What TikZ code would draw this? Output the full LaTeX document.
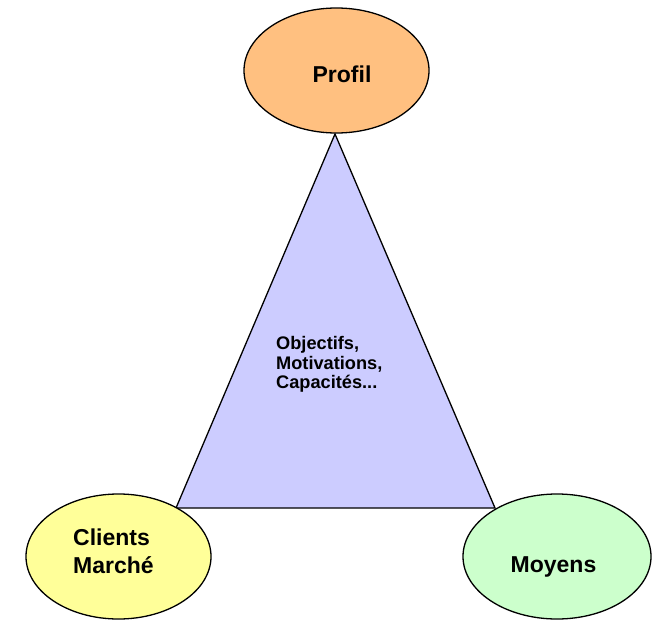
\documentclass[tikz,border=0pt]{standalone}
\usepackage{fontspec}
\setmainfont{Liberation Sans}
\usetikzlibrary{shapes.geometric}
\definecolor{profilfill}{HTML}{FFC080}
\definecolor{clientfill}{HTML}{FFFF99}
\definecolor{moyenfill}{HTML}{CCFFCC}
\definecolor{trifill}{HTML}{CCCCFF}
\tikzset{
  oval/.style={ellipse, draw=black, line width=1.3pt, inner sep=0pt},
  bigtxt/.style={inner sep=0pt, align=left, font=\bfseries\fontsize{23}{28}\selectfont},
  smalltxt/.style={inner sep=0pt, align=left, font=\bfseries\fontsize{18.2}{19.5}\selectfont},
}
\begin{document}
\begin{tikzpicture}[x=1pt,y=-1pt]
\useasboundingbox (0,0) rectangle (652,620);
\coordinate (apex) at (335,134);
\coordinate (bl) at (176,508);
\coordinate (br) at (495,508);
\draw[line width=1.3pt, fill=trifill, line join=miter] (apex) -- (br) -- (bl) -- cycle;
\node[oval, fill=profilfill, minimum width=185pt, minimum height=125pt] (profil) at (336.5,70.5) {};
\node[oval, fill=clientfill, minimum width=185pt, minimum height=125pt] (clients) at (118.5,556.5) {};
\node[oval, fill=moyenfill, minimum width=188pt, minimum height=125pt] (moyens) at (557,556.5) {};
\node[bigtxt, anchor=base] (tprofil) at (342,83) {Profil};
\node[bigtxt, anchor=base west] (tclients) at (73,545) {Clients};
\node[bigtxt, anchor=base west] (tmarche) at (73,573) {Marché};
\node[bigtxt, anchor=base] (tmoyens) at (553.5,572) {Moyens};
\node[smalltxt, anchor=base west] (t1) at (276,349) {Objectifs,};
\node[smalltxt, anchor=base west] (t2) at (276,369) {Motivations,};
\node[smalltxt, anchor=base west] (t3) at (276,388) {Capacités...};
\end{tikzpicture}
\end{document}
